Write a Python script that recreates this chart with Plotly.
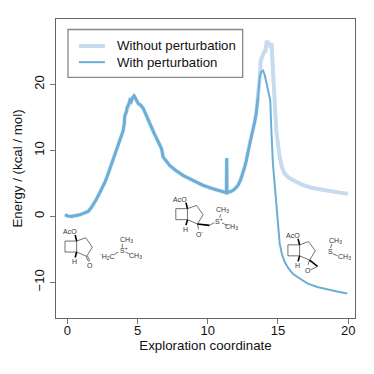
#%%
import plotly.graph_objects as go

# %% curves
shared_x = [-0.16, 0.05, 0.31, 0.6, 0.9, 1.2, 1.49, 1.7, 1.85, 2.05, 2.28, 2.5, 2.68, 2.85, 3.03, 3.2, 3.39, 3.55, 3.7, 3.85, 3.98, 4.05, 4.1, 4.2, 4.27, 4.36, 4.46, 4.55, 4.62, 4.76, 4.86, 5.05, 5.2, 5.4, 5.65, 5.88, 6.2, 6.59, 6.72, 6.82, 7.0, 7.3, 7.7, 8.25, 9.0, 9.67, 10.5, 11.33, 11.35, 11.37, 11.68, 11.9, 12.15, 12.35, 12.63, 12.75, 12.85, 12.98, 13.1, 13.34, 13.45, 13.58]
shared_y = [0.25, 0.05, 0.0, 0.1, 0.25, 0.5, 0.76, 1.3, 1.77, 2.5, 3.44, 4.3, 5.2, 6.1, 7.2, 8.4, 9.5, 10.4, 11.5, 12.2, 13.0, 14.0, 15.3, 15.8, 16.6, 16.9, 17.6, 17.4, 17.9, 18.3, 17.8, 17.1, 16.9, 16.4, 15.2, 14.0, 12.5, 10.8, 10.2, 9.0, 8.5, 7.7, 7.0, 6.2, 5.4, 4.7, 4.1, 3.6, 8.8, 3.6, 3.8, 4.1, 4.7, 5.6, 7.5, 8.4, 9.6, 11.0, 12.0, 14.3, 15.6, 18.0]
with_x = [13.7, 13.8, 13.93, 14.05, 14.2, 14.33, 14.45, 14.53, 14.64, 14.76, 14.88, 15.0, 15.12, 15.28, 15.47, 15.75, 16.06, 16.6, 17.13, 17.8, 18.55, 19.2, 19.93]
with_y = [21.1, 21.9, 22.1, 21.5, 20.1, 18.9, 17.6, 13.0, 8.0, 5.0, 1.9, -1.3, -4.1, -5.7, -6.9, -7.9, -8.7, -9.5, -10.2, -10.7, -11.1, -11.4, -11.7]
without_x = [13.7, 13.77, 13.9, 14.0, 14.1, 14.2, 14.3, 14.42, 14.54, 14.6, 14.7, 14.88, 15.0, 15.12, 15.28, 15.47, 15.8, 16.18, 16.7, 17.37, 18.0, 18.8, 19.4, 19.97]
without_y = [21.1, 23.6, 24.4, 24.9, 25.0, 26.6, 26.3, 25.9, 26.2, 23.2, 20.0, 13.0, 10.8, 9.0, 7.5, 6.5, 5.8, 5.35, 4.8, 4.35, 4.05, 3.8, 3.6, 3.44]

x_ticks = [0, 5, 10, 15, 20]
y_ticks = [-10, 0, 10, 20]

# %% molecule sketches, pixel offsets from the top bridgehead carbon
core_bonds = [((-11.7, 0), (0, 0)), ((-11.7, 0), (-11.7, 11)), ((-11.7, 11), (0, 11)), ((0, 0), (0, 11)),
              ((0, 0), (9, -3.3)), ((9, -3.3), (15.7, 6)), ((15.7, 6), (10, 15.3)), ((10, 15.3), (0, 11))]
core_wedges = [((0, 0), (-1.5, -6)), ((0, 11), (-1.5, 16.5))]
core_labels = [("AcO", -7, -9.5), ("H", -2.3, 20.5)]

molecules = [
    {"at": (76.7, 240.7),
     "bonds": [((9.4, 15.6), (12, 20.6)), ((10.8, 15), (13.4, 20)),
               ((45.7, 2.7), (45.7, 6.7)), ((37.7, 13.3), (41.7, 11)), ((49, 11), (53.3, 13.3))],
     "wedges": [],
     "labels": [("O", 13, 24.5), ("CH<sub>3</sub>", 50, -0.7), ("<sup>-</sup>H<sub>2</sub>C", 31, 15),
                ("S<sup>+</sup>", 47, 9.3), ("CH<sub>3</sub>", 59.3, 15.3)]},
    {"at": (187.7, 208.3),
     "bonds": [((10, 15.3), (11, 20.5)), ((22, 16.7), (27, 14)), ((32.3, 9), (33.3, 5.7)), ((34.7, 14.3), (40, 17))],
     "wedges": [((10, 15.3), (22, 16.7))],
     "labels": [("O<sup>-</sup>", 12, 25.7), ("CH<sub>3</sub>", 34.7, 1.7), ("S<sup>+</sup>", 31.5, 12.3), ("CH<sub>3</sub>", 44, 18.3)]},
    {"at": (300, 244.5),
     "bonds": [((10, 15.3), (8.5, 20)), ((11, 25), (18, 21.5)),
               ((31, 3.3), (32.3, -1)), ((33.3, 9), (38, 11))],
     "wedges": [((10, 15.3), (18, 21.5))],
     "labels": [("O", 8, 25.5), ("CH<sub>3</sub>", 35.7, -4), ("S", 31, 6.7), ("CH<sub>3</sub>", 45, 12.3)]},
]

# %% plot box in pixels
W, H = 374, 374
L, R, T, B = 56, 355.5, 18.5, 317.7
def px(x, y):
    return (x - L) / (R - L), (B - y) / (B - T)

def seg(p0, p1, color, width):
    a, b = px(*p0), px(*p1)
    return dict(type="line", xref="paper", yref="paper", x0=a[0], y0=a[1], x1=b[0], y1=b[1],
                line=dict(color=color, width=width))

def label(text, x, y, size, color, anchor="center"):
    p = px(x, y)
    return dict(text=text, xref="paper", yref="paper", x=p[0], y=p[1], showarrow=False, borderpad=0,
                font=dict(size=size, color=color), xanchor=anchor, yanchor="middle")

ink = "#333333"
shapes = []
annotations = []
for mol in molecules:
    ax, ay = mol["at"]
    for (x0, y0), (x1, y1) in core_bonds + mol["bonds"]:
        shapes.append(seg((ax + x0, ay + y0), (ax + x1, ay + y1), ink, 0.7))
    for (x0, y0), (x1, y1) in core_wedges + mol["wedges"]:
        shapes.append(seg((ax + x0, ay + y0), (ax + x1, ay + y1), "black", 1.6))
    for text, dx, dy in core_labels + mol["labels"]:
        annotations.append(label(text, ax + dx, ay + dy, 7, ink))

# %% legend drawn by hand, plotly's own row height is too tall here
light, blue = "#c6dbef", "#6baed6"
a, b = px(68, 29), px(243, 77)
shapes.append(dict(type="rect", xref="paper", yref="paper", x0=a[0], y0=a[1], x1=b[0], y1=b[1],
                   fillcolor="white", line=dict(color="#888888", width=1.3)))
shapes.append(seg((79, 45.5), (105, 45.5), light, 4))
shapes.append(seg((79, 61.7), (105, 61.7), blue, 2))
annotations.append(label("Without perturbation", 116, 45.5, 13.2, "#111111", "left"))
annotations.append(label("With perturbation", 116, 61.7, 13.2, "#111111", "left"))

# %%
fig = go.Figure()
fig.add_trace(go.Scatter(x=shared_x + without_x, y=shared_y + without_y, mode="lines",
                         name="Without perturbation", line=dict(color=light, width=4)))
fig.add_trace(go.Scatter(x=shared_x + with_x, y=shared_y + with_y, mode="lines",
                         name="With perturbation", line=dict(color=blue, width=2)))
fig.add_trace(go.Scatter(x=shared_x, y=shared_y, mode="lines", showlegend=False, line=dict(color=blue, width=2.8)))

axis = dict(showgrid=False, zeroline=False, showline=True, mirror=True, linecolor="#666666", linewidth=1.2,
            ticks="outside", ticklen=5, tickcolor="#777777", tickfont=dict(size=13, color="#111111"))
fig.update_xaxes(axis, range=[(L - 67.3) / 14.07, (R - 67.3) / 14.07], tickvals=x_ticks, ticklabelstandoff=-5,
                 title=dict(text="Exploration coordinate", font=dict(size=13.3, color="#111111"), standoff=1))
fig.update_yaxes(axis, range=[(216 - B) / 6.6, (216 - T) / 6.6], tickvals=y_ticks, tickangle=-90, ticklabelstandoff=1,
                 title=dict(text="Energy / (kcal / mol)", font=dict(size=13.3, color="#111111"), standoff=6))
fig.update_layout(width=W, height=H, margin=dict(l=L, r=W - R, t=T, b=H - B), plot_bgcolor="white",
                  paper_bgcolor="white", font=dict(family="Liberation Sans"), shapes=shapes, annotations=annotations,
                  showlegend=False)
fig.write_html("out.html", config=dict(displayModeBar=False), post_script="document.body.style.margin='0';")
